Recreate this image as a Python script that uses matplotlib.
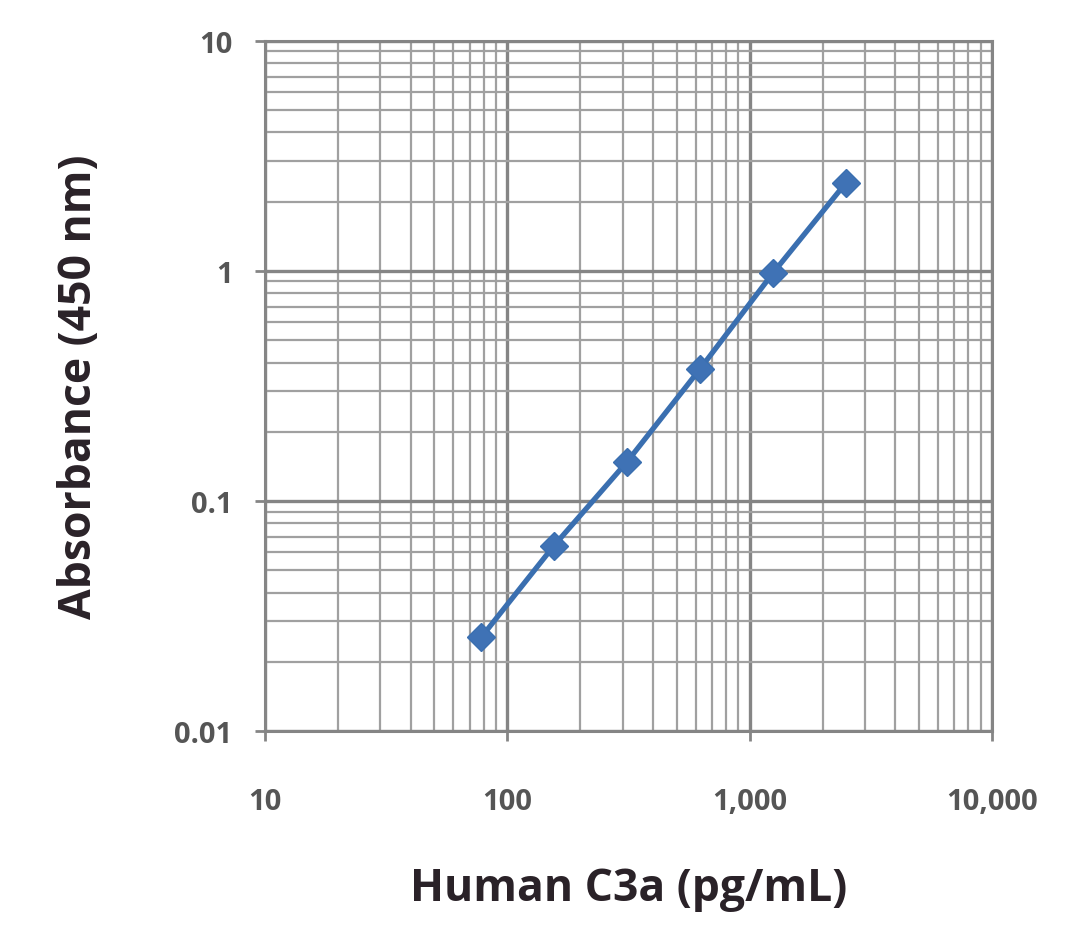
import matplotlib
matplotlib.use("Agg")
import matplotlib.pyplot as plt
from matplotlib.ticker import FixedLocator, FixedFormatter, LogLocator, NullFormatter

conc = [78.125, 156.25, 312.5, 625, 1250, 2500]
absorb = [0.0255, 0.064, 0.148, 0.375, 0.98, 2.42]
xticks = [10, 100, 1000, 10000]
xtick_labels = ["10", "100", "1,000", "10,000"]
yticks = [0.01, 0.1, 1, 10]
ytick_labels = ["0.01", "0.1", "1", "10"]

plt.rcParams['font.family'] = ['Open Sans', 'DejaVu Sans']
fig = plt.figure(figsize=(10.8, 9.45), dpi=100)
ax = fig.add_axes([0.245, 0.2254, 0.6735, 0.7302])
ax.set_xscale('log')
ax.set_yscale('log')
ax.set_xlim(10, 10000)
ax.set_ylim(0.01, 10)

ax.xaxis.set_major_locator(FixedLocator(xticks))
ax.xaxis.set_major_formatter(FixedFormatter(xtick_labels))
ax.yaxis.set_major_locator(FixedLocator(yticks))
ax.yaxis.set_major_formatter(FixedFormatter(ytick_labels))
ax.xaxis.set_minor_locator(LogLocator(base=10, subs=range(2, 10)))
ax.yaxis.set_minor_locator(LogLocator(base=10, subs=range(2, 10)))
ax.xaxis.set_minor_formatter(NullFormatter())
ax.yaxis.set_minor_formatter(NullFormatter())

ax.grid(True, which='major', color='#858585', linewidth=2.4)
ax.grid(True, which='minor', color='#a0a0a0', linewidth=1.6)
ax.set_axisbelow(True)
for s in ax.spines.values():
    s.set_color('#858585')
    s.set_linewidth(2.2)
ax.tick_params(which='major', length=7, color='#858585', width=2, labelsize=21, pad=16,
               labelcolor='#555555')
ax.tick_params(axis='x', which='major', pad=33)
ax.tick_params(which='minor', length=0)
for lab in ax.get_xticklabels() + ax.get_yticklabels():
    lab.set_fontweight('bold')

ax.plot(conc, absorb, color='#3a6fb0', linewidth=3.8, marker='D', markersize=14,
        markerfacecolor='#3f72b5', markeredgecolor='#3a6fb0', zorder=5)

ax.set_xlabel('Human C3a (pg/mL)', fontsize=32, fontweight='bold', labelpad=36, color='#2a2228')
ax.set_ylabel('Absorbance (450 nm)', fontsize=32, fontweight='bold', labelpad=52, color='#2a2228')

fig.savefig('out.png', dpi=100)
